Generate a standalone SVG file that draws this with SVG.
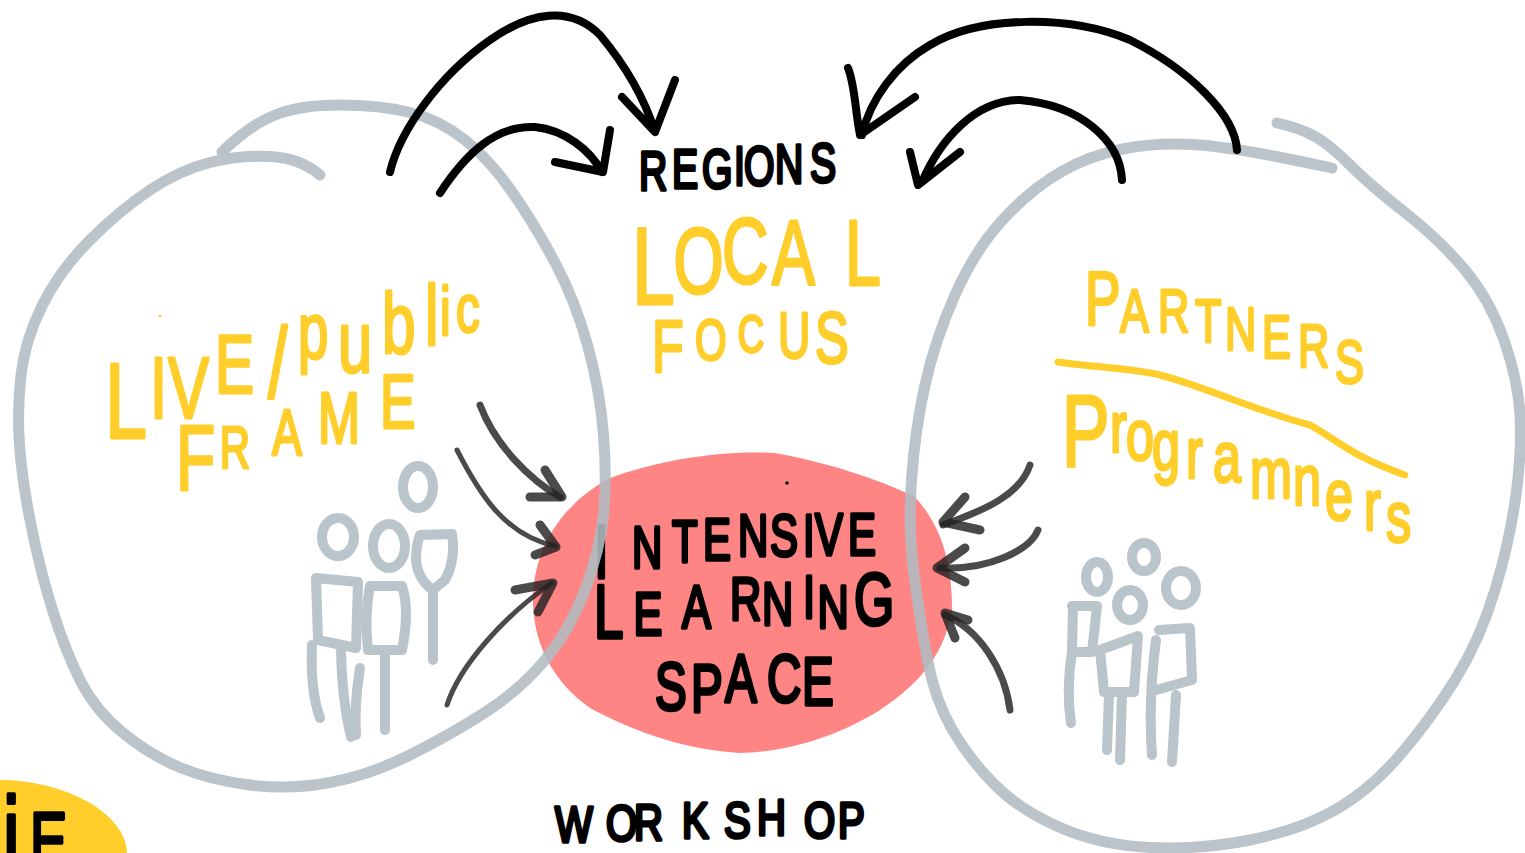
<svg xmlns="http://www.w3.org/2000/svg" width="1525" height="853" viewBox="0 0 1525 853">
<style>
.ring{fill:none;stroke:#b0bcc3;stroke-width:11;stroke-linecap:round;stroke-linejoin:round;opacity:.88}
.fig{fill:none;stroke:#bac5cb;stroke-width:10;stroke-linecap:round;stroke-linejoin:round}
.big{fill:none;stroke:#000;stroke-width:8;stroke-linecap:round;stroke-linejoin:round}
.small{fill:none;stroke:#222;stroke-width:5;stroke-linecap:round;stroke-linejoin:round;opacity:.82}
.thick{stroke-width:7}
.head{stroke-width:9}
.y{font-family:"Liberation Sans",Arial,sans-serif;fill:#ffce2b;stroke:#ffce2b;stroke-width:3;stroke-linejoin:round}
.k{font-family:"Liberation Sans",Arial,sans-serif;fill:#000;stroke:#000;stroke-width:3.6;stroke-linejoin:round}
</style>
<rect width="1525" height="853" fill="#fff"/>
<g id="badge"><path d="M0,780C60,780 125,810 127,853L0,853Z" fill="#ffce2b"/>
<text class="k" transform="scale(.7,1)"><tspan font-size="110" x="4" y="873">i</tspan><tspan font-size="80" x="43" y="868">E</tspan></text></g>
<g id="learning-space"><path d="M533,600C533,550 560,505 610,478C660,460 720,450 775,453C830,463 880,480 915,497C945,530 952,570 952,610C945,650 925,680 880,710C840,735 790,752 740,753C690,750 640,735 590,708C550,680 533,640 533,600Z" fill="#ff8585"/>
<circle cx="787" cy="483" r="1.8" fill="#000"/>
<text class="k" font-size="60" transform="scale(.7,1)"><tspan font-size="76" x="848.6" y="578">I</tspan><tspan x="902.9 960 1004.3 1054.3 1100 1147.1 1164.3 1211.4" y="568 562 560 556 556 556 555 555">NTENSIVE</tspan></text>
<text class="k" font-size="62" transform="scale(.7,1)"><tspan font-size="76" x="848.6" y="638">L</tspan><tspan x="905 974.3 1042.9 1088.6 1147.1 1168 " y="635 628 620 625 618 628">EARNIN</tspan><tspan font-size="74" x="1220" y="625">G</tspan></text>
<text class="k" font-size="68" transform="scale(.7,1)" x="935.7 987.1 1035.7 1095.7 1145.7" y="710 712 702 702 705">SPACE</text></g>
<g id="live-public-frame">
<path class="ring" d="M320,175Q300,158 270,156.5Q240,155 210,162.5Q180,170 150,190Q120,210 90,240Q60,270 42.5,305Q25,340 21,375Q17,410 19.5,445Q22,480 31,525Q40,570 52.5,610Q65,650 80,680Q95,710 122.5,732.5Q150,755 180,767.5Q210,780 250,785Q290,790 330,782.5Q370,775 410,755Q450,735 485,712.5Q520,690 545,660Q570,630 585,590Q600,550 603.5,515Q607,480 603.5,435Q600,390 587.5,345Q575,300 555,262.5Q535,225 512.5,192.5Q490,160 465,140Q440,120 410,112.5Q380,105 340,105Q300,105 275,115Q250,125 222,152"/>
<text class="y" transform="scale(.7,1)"><tspan font-size="108" x="150" y="438">L</tspan><tspan font-size="88" x="214.3 240" y="418 418">IV</tspan><tspan font-size="84" x="307.1" y="393">E</tspan><tspan font-size="100" x="382.9" y="398">/</tspan><tspan font-size="78" x="425.7" y="358">p</tspan><tspan font-size="88" x="482.9" y="372">u</tspan><tspan font-size="86" x="545.7 607.1" y="353 345">bl</tspan><tspan font-size="68" x="628.6 651.4" y="335 332">ic</tspan></text>
<text class="y" transform="scale(.7,1)"><tspan font-size="92" x="251.4" y="490">F</tspan><tspan font-size="60" x="314" y="468">R</tspan><tspan font-size="64" x="388.6" y="455">A</tspan><tspan font-size="72" x="454.3" y="443">M</tspan><tspan font-size="76" x="542.9" y="428">E</tspan></text>
<circle cx="160" cy="316" r="1.5" fill="#ffce2b"/>
<g class="fig"><ellipse cx="418" cy="487" rx="15" ry="21"/><ellipse cx="338" cy="537" rx="16" ry="19"/><ellipse cx="389" cy="546" rx="16" ry="22"/>
<path d="M316,578L358,582L356,648L318,640L316,578M312,645Q310,690 320,718M341,650Q342,700 351,737"/>
<path d="M370,586L402,586Q410,610 402,650L368,650Q364,615 370,586M360,668Q354,705 356,735M385,655L385,730"/>
<path d="M420,535L452,534Q456,560 445,580L433,590Q418,580 416,560Q416,545 420,535M433,590L433,660"/></g></g>
<g id="local-focus">
<text class="y" transform="scale(.7,1)"><tspan font-size="110" x="902.9" y="304">L</tspan><tspan font-size="92" x="962 1031.4" y="293 283">OC</tspan><tspan font-size="92" x="1102.9 1207.1" y="285 285">AL</tspan></text>
<text class="y" transform="scale(.7,1)"><tspan font-size="74" x="931.4" y="372">F</tspan><tspan font-size="58" x="992.9" y="360">O</tspan><tspan font-size="52" x="1054.3" y="352">C</tspan><tspan font-size="64" x="1111.4" y="358">U</tspan><tspan font-size="72" x="1164.3" y="363">S</tspan></text></g>
<g id="regions"><text class="k" font-size="56" transform="scale(.7,1)" x="912.9 960 1002.9 1048.6 1062.9 1107.1 1157.1" y="190 188 188 185 185 183 182">REGIONS</text></g>
<g id="partners-programners">
<path class="ring" d="M1277,123Q1300,128 1315,136.5Q1330,145 1350,165Q1370,185 1405,212.5Q1440,240 1465,270Q1490,300 1504,340Q1518,380 1520,415Q1522,450 1516,495Q1510,540 1495,590Q1480,640 1455,680Q1430,720 1400,755Q1370,790 1335,810Q1300,830 1250,840Q1200,850 1150,847.5Q1100,845 1060,827.5Q1020,810 995,785Q970,760 952.5,730Q935,700 927.5,660Q920,620 914,575Q908,530 911.5,480Q915,430 925,385Q935,340 955,295Q975,250 1002.5,220Q1030,190 1060,172.5Q1090,155 1125,148.5Q1160,142 1200,145Q1240,148 1332,168"/>
<text class="y" font-size="62" transform="scale(.7,1)"><tspan font-size="76" x="1550" y="325">P</tspan><tspan x="1600 1654.3 1707.1 1750 1802.9 1854.3 1907.1" y="332 332 342 350 358 367 383">ARTNERS</tspan></text>
<path d="M1058,362C1090,367 1130,368 1160,375C1200,385 1260,412 1310,425C1340,442 1350,455 1405,475" fill="none" stroke="#ffce2b" stroke-width="7" stroke-linecap="round"/>
<text class="y" transform="scale(.7,1)"><tspan font-size="102" x="1517.1" y="466">P</tspan><tspan font-size="72" x="1585.7 1608.6 1645.7 1694.3 1732.9 1785.7 1847 1892.9 1948.6 1980" y="452 460 470 478 482 498 505 520 530 542">rogramners</tspan></text>
<g class="fig"><ellipse cx="1097" cy="577" rx="11" ry="15"/><ellipse cx="1144" cy="557" rx="12" ry="14"/><ellipse cx="1130" cy="605" rx="13" ry="15"/><ellipse cx="1181" cy="588" rx="15" ry="17"/>
<path d="M1072,606L1097,606L1092,652L1072,652L1073,606M1072,652Q1066,690 1071,723"/>
<path d="M1100,650L1138,636L1134,692L1104,692L1100,650M1109,694L1107,750M1122,694L1120,760"/>
<path d="M1159,630L1190,628L1192,680L1156,690M1156,640Q1148,700 1152,755M1176,695L1172,762"/></g></g>
<g id="connectors">
<path class="big" d="M390,172C400,130 440,75 490,40C530,12 570,5 600,35C625,65 645,100 655,132M622,97L655,132L675,80"/>
<path class="big" d="M440,193C465,155 495,125 535,127C565,130 590,150 602,172M555,162L603,172L610,130"/>
<path class="big" d="M1237,150C1235,115 1190,70 1130,40C1070,15 980,15 930,45C895,65 870,100 862,135M848,68C855,85 855,110 860,135L915,97"/>
<path class="big" d="M1122,180C1120,140 1080,105 1020,100C975,100 940,140 922,182M910,152L918,185L960,152"/>
<path class="small thick" d="M480,405C495,445 530,480 560,497"/><path class="small head" d="M545,470L562,497L530,497"/>
<path class="small" d="M457,450C480,495 505,535 555,546"/><path class="small head" d="M540,525L556,547L535,555"/>
<path class="small" d="M447,705C460,665 505,615 552,583"/><path class="small head" d="M515,590L553,583L538,612"/>
<path class="small thick" d="M1030,465C1020,495 985,510 943,525"/><path class="small head" d="M965,497L943,522L980,530"/>
<path class="small thick" d="M1038,530C1030,550 990,570 940,568"/><path class="small head" d="M965,548L937,568L965,582"/>
<path class="small thick" d="M1010,710C1005,670 980,630 945,615"/><path class="small head" d="M968,620L945,613L955,638"/>
</g>
<g id="workshop"><text class="k" font-size="50" transform="scale(.8,1)" x="693.8 757.5 792.5 852.5 905 946.3 1005 1047.5" y="842 841 840 838 838 835 838 838">WORKSHOP</text></g>
</svg>
